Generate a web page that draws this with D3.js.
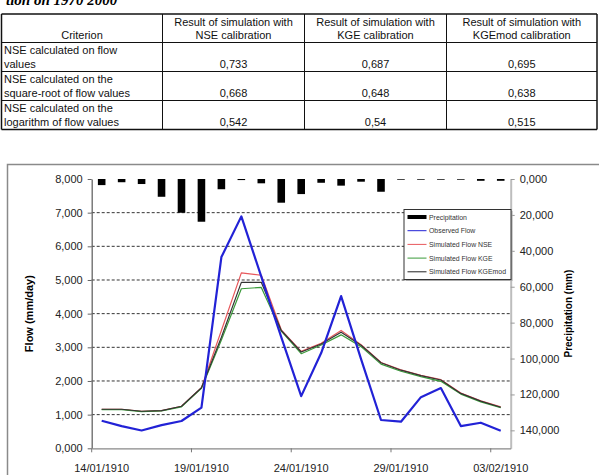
<!DOCTYPE html>
<html>
<head>
<meta charset="utf-8">
<script src="https://cdn.jsdelivr.net/npm/d3@7"></script>
<style>
  body { margin: 0; background: #fff; }
  svg { display: block; font-family: "Liberation Sans", Arial, sans-serif; }
</style>
</head>
<body>
<script>
// table data
const tableHeader = ['Criterion', 'Result of simulation with|NSE calibration',
  'Result of simulation with|KGE calibration', 'Result of simulation with|KGEmod calibration'];
const tableCriteria = ['NSE calculated on flow|values', 'NSE calculated on the|square-root of flow values',
  'NSE calculated on the|logarithm of flow values'];
const nseCalibration = ['0,733', '0,668', '0,542'];
const kgeCalibration = ['0,687', '0,648', '0,54'];
const kgemodCalibration = ['0,695', '0,638', '0,515'];

// chart data
const dates = ['14/01/1910', '15/01/1910', '16/01/1910', '17/01/1910', '18/01/1910', '19/01/1910',
  '20/01/1910', '21/01/1910', '22/01/1910', '23/01/1910', '24/01/1910', '25/01/1910', '26/01/1910',
  '27/01/1910', '28/01/1910', '29/01/1910', '30/01/1910', '31/01/1910', '01/02/1910', '02/02/1910',
  '03/02/1910'];
const precipitation = [3.4, 1.8, 2.8, 9.9, 18.8, 23.8, 5.7, 0.6, 2.4, 13.2, 8.4, 2.1, 3.7, 1.5, 7.1,
  0.4, 0.4, 0.4, 0.4, 1.0, 1.0];
const observedFlow = [0.82, 0.66, 0.53, 0.69, 0.81, 1.21, 5.68, 6.89, 5.10, 3.30, 1.55, 2.83, 4.52,
  2.65, 0.84, 0.79, 1.52, 1.79, 0.66, 0.76, 0.52];
const simNSE = [1.16, 1.16, 1.10, 1.12, 1.25, 1.80, 3.50, 5.21, 5.14, 3.52, 2.88, 3.12, 3.50, 3.08,
  2.55, 2.33, 2.17, 2.04, 1.64, 1.41, 1.23];
const simKGE = [1.15, 1.15, 1.09, 1.11, 1.23, 1.78, 3.22, 4.74, 4.78, 3.48, 2.81, 3.07, 3.37, 3.02,
  2.50, 2.29, 2.13, 1.99, 1.61, 1.38, 1.21];
const simKGEmod = [1.16, 1.16, 1.10, 1.12, 1.25, 1.80, 3.30, 4.93, 4.93, 3.50, 2.86, 3.10, 3.45, 3.06,
  2.54, 2.32, 2.16, 2.03, 1.63, 1.40, 1.22];
const flowTicks = [0, 1, 2, 3, 4, 5, 6, 7, 8];
const precipTicks = [0, 20, 40, 60, 80, 100, 120, 140];
const dateTicks = ['14/01/1910', '19/01/1910', '24/01/1910', '29/01/1910', '03/02/1910'];

const W = 599, H = 475;
const svg = d3.select('body').append('svg').attr('width', W).attr('height', H);

const fmt = d3.formatLocale({ decimal: ',', thousands: '.', grouping: [3], currency: ['', ''] }).format('.3f');

// cut-off caption above the table
svg.append('text')
  .attr('x', 6).attr('y', 5)
  .style('font-family', '"Liberation Serif", serif')
  .style('font-style', 'italic').style('font-weight', 'bold')
  .style('font-size', '15px')
  .text('tion on 1970 2000');

// ---- table ----
function drawTable() {
  const colX = [1.5, 162.5, 304.5, 446.5, 597];
  const rowY = [14, 42.5, 71.5, 100.5, 129.5];
  const g = svg.append('g').attr('id', 'table').style('font-size', '11px').attr('fill', '#111');

  g.selectAll('line.col').data(colX).enter().append('line')
    .attr('x1', d => d).attr('x2', d => d).attr('y1', rowY[0]).attr('y2', rowY[4])
    .attr('stroke', '#111').attr('stroke-width', (d, i) => (i === 0 || i === 4) ? 1.5 : 1);
  g.selectAll('line.row').data(rowY).enter().append('line')
    .attr('x1', colX[0]).attr('x2', colX[4]).attr('y1', d => d).attr('y2', d => d)
    .attr('stroke', '#111').attr('stroke-width', (d, i) => (i === 0 || i === 4) ? 1.5 : 1);

  const mid = i => (colX[i] + colX[i + 1]) / 2;

  // header
  tableHeader.forEach((h, i) => {
    const lines = h.split('|');
    lines.forEach((t, j) => {
      g.append('text').attr('x', mid(i)).attr('text-anchor', 'middle')
        .attr('y', rowY[1] - 3.5 - (lines.length - 1 - j) * 13).text(t);
    });
  });

  // body
  const cols = [nseCalibration, kgeCalibration, kgemodCalibration];
  tableCriteria.forEach((c, r) => {
    const bottom = rowY[r + 2] - 3.5;
    c.split('|').forEach((t, j) => {
      g.append('text').attr('x', 4).attr('y', bottom - (1 - j) * 14).text(t);
    });
    cols.forEach((col, k) => {
      g.append('text').attr('x', mid(k + 1)).attr('y', bottom)
        .attr('text-anchor', 'middle').text(col[r]);
    });
  });
}
drawTable();

// ---- chart ----
function drawChart() {
  const plot = { left: 91.7, right: 510.7, top: 179, bottom: 448.3 };

  // outer chart frame
  svg.append('rect')
    .attr('x', 7.5).attr('y', 164.5).attr('width', 640).attr('height', 400)
    .attr('fill', 'none').attr('stroke', '#8a8a8a').attr('stroke-width', 1.5);

  const x = d3.scaleBand().domain(dates).range([plot.left, plot.right]);
  const xBar = d3.scaleBand().domain(dates).range([plot.left, plot.right])
    .paddingInner(0.62).paddingOuter(0.31);
  const yFlow = d3.scaleLinear().domain([0, 8]).range([plot.bottom, plot.top]);
  const yPrecip = d3.scaleLinear().domain([0, 150]).range([plot.top, plot.bottom]);

  // gridlines
  svg.append('g').attr('id', 'grid')
    .selectAll('line').data(flowTicks.filter(d => d > 0 && d < 8)).enter().append('line')
    .attr('x1', plot.left).attr('x2', plot.right)
    .attr('y1', d => yFlow(d)).attr('y2', d => yFlow(d))
    .attr('stroke', '#333').attr('stroke-width', 1).attr('stroke-dasharray', '3,2');

  // precipitation bars hanging from the top
  svg.append('g').attr('id', 'precip')
    .selectAll('rect').data(dates).enter().append('rect')
    .attr('x', d => xBar(d))
    .attr('width', xBar.bandwidth())
    .attr('y', yPrecip(0))
    .attr('height', (d, i) => yPrecip(precipitation[i]) - yPrecip(0))
    .attr('fill', '#000');

  // flow lines
  const line = d3.line()
    .x((d, i) => x(dates[i]) + x.bandwidth() / 2)
    .y(d => yFlow(d));
  const series = [
    { name: 'Simulated Flow NSE', values: simNSE, color: '#e8585c', width: 1.2 },
    { name: 'Simulated Flow KGE', values: simKGE, color: '#3a9a3a', width: 1.2 },
    { name: 'Simulated Flow KGEmod', values: simKGEmod, color: '#333', width: 1.2 },
    { name: 'Observed Flow', values: observedFlow, color: '#2222d6', width: 2.2 }
  ];
  svg.append('g').attr('id', 'lines')
    .selectAll('path').data(series).enter().append('path')
    .attr('d', d => line(d.values))
    .attr('fill', 'none')
    .attr('stroke', d => d.color)
    .attr('stroke-width', d => d.width)
    .attr('stroke-linejoin', 'round');

  // left axis
  const left = svg.append('g').attr('transform', `translate(${plot.left},0)`)
    .call(d3.axisLeft(yFlow).tickValues(flowTicks).tickFormat(fmt).tickSize(4).tickSizeOuter(0));
  left.select('.domain').attr('stroke', '#666').attr('stroke-width', 1.3);
  left.selectAll('.tick line').attr('stroke', '#666');
  left.selectAll('.tick text').attr('x', -9).attr('fill', '#222')
    .style('font-family', '"Liberation Sans", Arial, sans-serif').style('font-size', '11px');

  // right axis
  const right = svg.append('g').attr('transform', `translate(${plot.right},0)`)
    .call(d3.axisRight(yPrecip).tickValues(precipTicks).tickFormat(fmt).tickSize(4).tickSizeOuter(0));
  right.select('.domain').attr('stroke', '#bdbdbd').attr('stroke-width', 2);
  right.selectAll('.tick line').attr('stroke', '#999');
  right.selectAll('.tick text').attr('x', 9).attr('fill', '#222')
    .style('font-family', '"Liberation Sans", Arial, sans-serif').style('font-size', '11px');

  // bottom axis: labels centred on days, tick marks on day boundaries
  const bottom = svg.append('g').attr('transform', `translate(0,${plot.bottom})`)
    .call(d3.axisBottom(x).tickValues(dateTicks).tickSize(0).tickPadding(16).tickSizeOuter(0));
  bottom.select('.domain').attr('stroke', '#888').attr('stroke-width', 1.3);
  bottom.selectAll('.tick text').attr('fill', '#222')
    .style('font-family', '"Liberation Sans", Arial, sans-serif').style('font-size', '11px');
  bottom.selectAll('line.daytick').data(dateTicks).enter().append('line')
    .attr('class', 'daytick')
    .attr('x1', d => x(d)).attr('x2', d => x(d)).attr('y1', 0).attr('y2', 4)
    .attr('stroke', '#777');

  // axis titles
  svg.append('text')
    .attr('transform', `translate(33,${(plot.top + plot.bottom) / 2}) rotate(-90)`)
    .attr('text-anchor', 'middle').style('font-weight', 'bold').style('font-size', '11px')
    .text('Flow (mm/day)');
  svg.append('text')
    .attr('transform', `translate(572,${(plot.top + plot.bottom) / 2}) rotate(-90)`)
    .attr('text-anchor', 'middle').style('font-weight', 'bold').style('font-size', '10px')
    .text('Precipitation (mm)');

  // legend
  const legendItems = [
    { name: 'Precipitation', color: '#000', width: 4 },
    { name: 'Observed Flow', color: '#2222d6', width: 1 },
    { name: 'Simulated Flow NSE', color: '#e8585c', width: 1 },
    { name: 'Simulated Flow KGE', color: '#3a9a3a', width: 1 },
    { name: 'Simulated Flow KGEmod', color: '#222', width: 1 }
  ];
  const lg = svg.append('g').attr('id', 'legend').attr('transform', 'translate(404,209.5)');
  lg.append('rect').attr('x', 1.5).attr('y', 1.5).attr('width', 107).attr('height', 70).attr('fill', '#aaa');
  lg.append('rect').attr('width', 107).attr('height', 70)
    .attr('fill', '#fff').attr('stroke', '#333').attr('stroke-width', 1);
  const item = lg.selectAll('g.item').data(legendItems).enter().append('g')
    .attr('transform', (d, i) => `translate(0,${7.5 + i * 13.7})`);
  item.append('line').attr('x1', 3.5).attr('x2', 22.5).attr('y1', 0).attr('y2', 0)
    .attr('stroke', d => d.color).attr('stroke-width', d => d.width);
  item.append('text').attr('x', 25).attr('y', 2.5)
    .style('font-size', '6.9px').attr('fill', '#333').text(d => d.name);
}
drawChart();
</script>
</body>
</html>
